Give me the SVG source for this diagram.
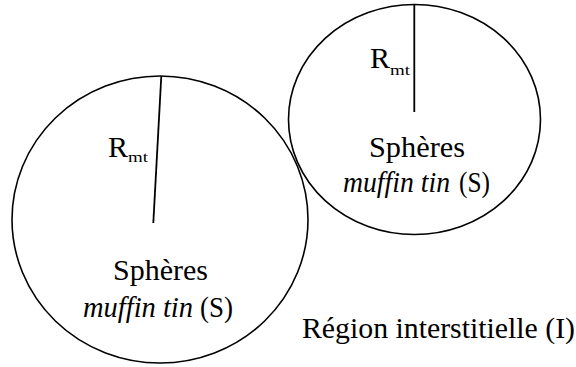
<svg xmlns="http://www.w3.org/2000/svg" width="576" height="367" viewBox="0 0 576 367">
<style>
.c{fill:none;stroke:#000;stroke-width:1.6}
.r{stroke:#000;stroke-width:1.8}
text{font-family:"Liberation Serif","Times New Roman",serif;fill:#000}
.t{font-size:29px}
.R{font-size:30px}
.i{font-style:italic}
.s{font-size:15px}
</style>
<rect width="576" height="367" fill="#fff"/>
<g id="sphere-left">
<ellipse class="c" cx="160" cy="219.5" rx="148" ry="143.5"/>
<text class="R" x="108" y="157" textLength="20" lengthAdjust="spacingAndGlyphs">R</text>
<text class="s" x="128" y="162" textLength="20" lengthAdjust="spacingAndGlyphs">mt</text>
<text class="t" x="113" y="280" textLength="95" lengthAdjust="spacingAndGlyphs">Sphères</text>
<text class="t i" x="83" y="317" textLength="110" lengthAdjust="spacingAndGlyphs">muffin tin</text>
<text class="t" x="200" y="317" textLength="33" lengthAdjust="spacingAndGlyphs">(S)</text>
</g>
<g id="sphere-right">
<ellipse class="c" cx="414.5" cy="119.5" rx="126" ry="115"/>
<text class="R" x="370" y="68" textLength="20" lengthAdjust="spacingAndGlyphs">R</text>
<text class="s" x="390" y="75" textLength="20" lengthAdjust="spacingAndGlyphs">mt</text>
<text class="t" x="369" y="157" textLength="96" lengthAdjust="spacingAndGlyphs">Sphères</text>
<text class="t i" x="343" y="192" textLength="107" lengthAdjust="spacingAndGlyphs">muffin tin</text>
<text class="t" x="459" y="192" textLength="31" lengthAdjust="spacingAndGlyphs">(S)</text>
</g>
<g id="interstitial">
<text class="t" x="302" y="338" textLength="273" lengthAdjust="spacingAndGlyphs">Région interstitielle (I)</text>
</g>
<g id="connectors">
<line class="r" x1="161.3" y1="76" x2="153.3" y2="223"/>
<line class="r" x1="414.3" y1="5" x2="414.3" y2="112"/>
</g>
</svg>
